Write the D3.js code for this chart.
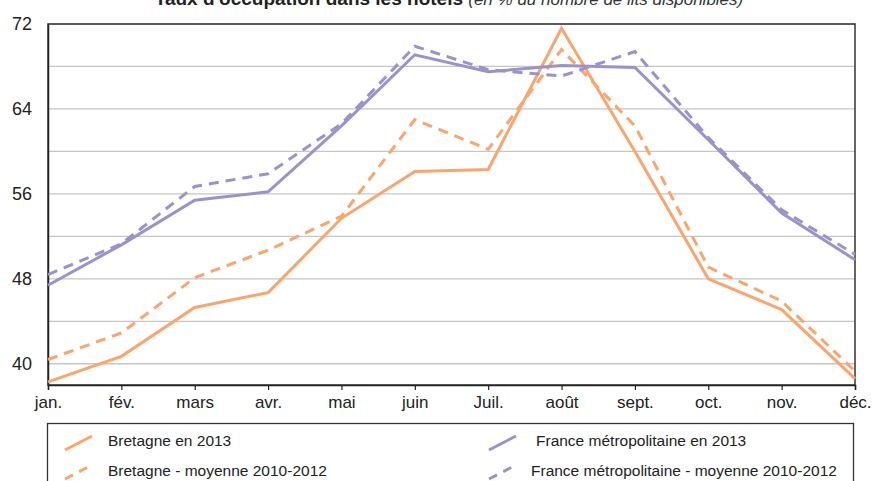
<!DOCTYPE html>
<html>
<head>
<meta charset="utf-8">
<script src="https://cdn.jsdelivr.net/npm/d3@7"></script>
<style>
  body { margin: 0; background: #fff; }
  text { font-family: "Liberation Sans Narrow", "Arial Narrow", "Liberation Sans", sans-serif; fill: #222; }
</style>
</head>
<body>
<div id="chart"></div>
<script>
var svgWidth = 877;
var svgHeight = 481;

var margin = { top: 24, right: 22, bottom: 96, left: 48 };

var width = svgWidth - margin.left - margin.right;
var height = svgHeight - margin.top - margin.bottom;

// months and tick values
var months = ["jan.", "fév.", "mars", "avr.", "mai", "juin", "Juil.", "août", "sept.", "oct.", "nov.", "déc."];
var yLabels = [40, 48, 56, 64, 72];
var yGrid = [40, 44, 48, 52, 56, 60, 64, 68, 72];

// series
var bretagne2013 = [38.3, 40.7, 45.3, 46.7, 53.7, 58.1, 58.3, 71.6, 60.0, 48.0, 45.1, 38.6];
var bretagneMoy = [40.4, 42.9, 48.1, 50.7, 53.9, 63.0, 60.2, 69.6, 62.4, 49.1, 45.9, 39.3];
var france2013 = [47.4, 51.2, 55.4, 56.2, 62.4, 69.1, 67.5, 68.1, 67.9, 61.1, 54.2, 49.8];
var franceMoy = [48.4, 51.3, 56.7, 57.9, 62.6, 69.9, 67.7, 67.1, 69.4, 61.3, 54.5, 50.3];

var orange = "#fba46c";
var purple = "#9b92cc";

var series = [
  { name: "Bretagne en 2013", values: bretagne2013, color: orange, dash: null },
  { name: "Bretagne - moyenne 2010-2012", values: bretagneMoy, color: orange, dash: "10,7" },
  { name: "France métropolitaine en 2013", values: france2013, color: purple, dash: null },
  { name: "France métropolitaine - moyenne 2010-2012", values: franceMoy, color: purple, dash: "10,7" }
];

var svg = d3.select("#chart").append("svg").attr("width", svgWidth).attr("height", svgHeight);

// title (cut at the top like the original)
var title = svg.append("text").attr("x", 449).attr("y", 5).attr("text-anchor", "middle")
  .style("font-family", "'Liberation Sans', Arial, sans-serif");
title.append("tspan").attr("font-weight", "bold").style("font-size", "19px").text("Taux d'occupation dans les hôtels ");
title.append("tspan").attr("font-style", "italic").style("font-size", "17px").attr("fill", "#333")
  .text("(en % du nombre de lits disponibles)");

var chartGroup = svg.append("g").attr("transform", `translate(${margin.left}, ${margin.top})`);

var x = d3.scalePoint().domain(months).range([0, width]);
var y = d3.scaleLinear().domain([38, 72]).range([height, 0]);

// gridlines
chartGroup.append("g").selectAll("line").data(yGrid).join("line")
  .attr("x1", 0).attr("x2", width)
  .attr("y1", d => y(d)).attr("y2", d => y(d))
  .attr("stroke", "#c6c6c6").attr("stroke-width", 1.3);

// frame
chartGroup.append("rect").attr("width", width).attr("height", height)
  .attr("fill", "none").attr("stroke", "#333").attr("stroke-width", 1.5);

// x axis
var xAxis = d3.axisBottom(x).tickSize(5).tickPadding(6);
var gx = chartGroup.append("g").attr("transform", `translate(0, ${height})`).call(xAxis);
gx.select(".domain").attr("stroke", "#222").attr("stroke-width", 1.5);
gx.selectAll(".tick line").attr("stroke", "#222").attr("stroke-width", 1.2);
gx.selectAll(".tick text").style("font-size", "17px").attr("fill", "#222");

// y axis (labels only)
var yAxis = d3.axisLeft(y).tickValues(yLabels).tickSize(0).tickPadding(16);
var gy = chartGroup.append("g").call(yAxis);
gy.select(".domain").attr("stroke", "#222").attr("stroke-width", 1.5);
gy.selectAll(".tick text").style("font-size", "18px").attr("fill", "#222");

// lines
var line = d3.line().x((d, i) => x(months[i])).y(d => y(d));

chartGroup.append("g").selectAll("path").data(series).join("path")
  .attr("d", d => line(d.values))
  .attr("fill", "none")
  .attr("stroke", d => d.color)
  .attr("stroke-width", 3)
  .attr("stroke-dasharray", d => d.dash)
  .attr("stroke-linejoin", "miter");

// legend
var legend = svg.append("g");
legend.append("rect").attr("x", 47.5).attr("y", 423.5).attr("width", 806).attr("height", 70)
  .attr("fill", "none").attr("stroke", "#333").attr("stroke-width", 1.3);

var legendPos = [
  { x: 65, y: 450, tx: 108, ty: 446 },
  { x: 65, y: 479, tx: 108, ty: 476 },
  { x: 489, y: 450, tx: 536, ty: 446 },
  { x: 489, y: 479, tx: 531, ty: 476 }
];

var items = legend.selectAll("g").data(series).join("g");
items.append("line")
  .attr("x1", (d, i) => legendPos[i].x).attr("y1", (d, i) => legendPos[i].y)
  .attr("x2", (d, i) => legendPos[i].x + 27).attr("y2", (d, i) => legendPos[i].y - 14)
  .attr("stroke", d => d.color).attr("stroke-width", 3)
  .attr("stroke-dasharray", d => d.dash ? "9,7" : null);
items.append("text")
  .attr("x", (d, i) => legendPos[i].tx).attr("y", (d, i) => legendPos[i].ty)
  .style("font-size", "15.5px").text(d => d.name);
</script>
</body>
</html>
